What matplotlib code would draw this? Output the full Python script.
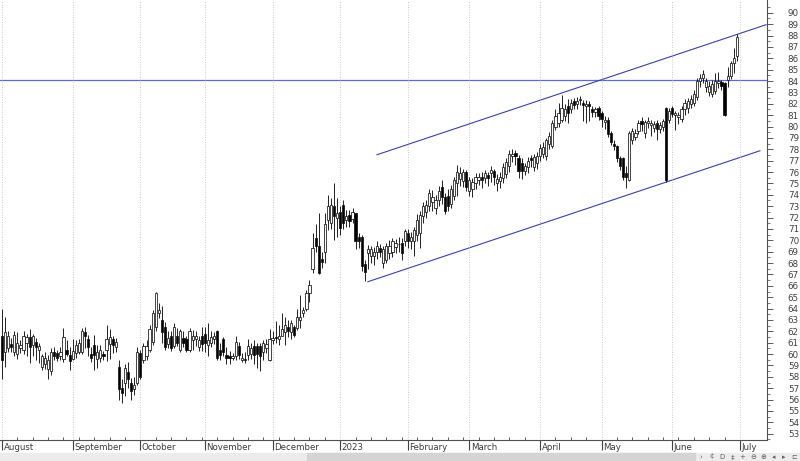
import numpy as np
import pandas as pd
import matplotlib
matplotlib.use('Agg')
import matplotlib.pyplot as plt
from matplotlib.patches import Rectangle

# ---- data --------------------------------------------------------------------
dates = pd.bdate_range('2022-08-01', '2023-06-30')

opens = [
    61.6, 60.2, 60.5, 60.9, 60.2, 60.0, 60.5, 60.4, 61.0, 61.5,
    60.8, 61.1, 60.4, 58.9, 59.1, 58.7, 58.5, 60.2, 60.1, 59.8,
    59.6, 60.4, 59.9, 59.6, 60.1, 60.2, 60.2, 61.9, 61.3, 60.0,
    60.8, 59.6, 59.7, 60.0, 60.4, 60.9, 61.3, 60.6, 58.9, 57.0,
    57.5, 58.4, 57.5, 56.9, 57.5, 60.1, 59.5, 59.8, 60.4, 61.1,
    62.4, 63.6, 63.0, 62.4, 60.9, 61.6, 60.7, 61.6, 60.4, 61.4,
    61.3, 60.4, 61.2, 61.3, 60.6, 61.6, 61.8, 60.8, 61.0, 61.3,
    62.0, 60.4, 61.3, 59.9, 59.8, 59.7, 59.8, 60.7, 59.5, 59.6,
    59.9, 60.0, 60.7, 60.7, 60.7, 60.2, 60.5, 59.5, 61.2, 61.5,
    61.3, 61.6, 61.9, 62.4, 61.9, 62.4, 62.3, 63.0, 63.6, 64.0,
    65.4, 67.5, 70.2, 69.5, 68.4, 69.0, 71.8, 71.5, 73.0, 72.0,
    72.5, 73.1, 71.8, 72.2, 71.9, 72.4, 70.3, 70.3, 67.9, 68.9,
    68.6, 68.6, 69.0, 69.3, 68.0, 68.3, 68.9, 69.0, 69.4, 69.7,
    69.8, 69.9, 70.6, 69.9, 69.9, 70.5, 70.6, 72.1, 72.5, 73.0,
    73.4, 72.8, 73.5, 74.7, 73.8, 73.9, 73.2, 73.9, 75.0, 75.4,
    75.2, 76.0, 74.3, 74.5, 75.0, 75.3, 75.6, 75.5, 75.7, 75.9,
    76.1, 75.0, 75.2, 75.5, 75.8, 76.5, 77.4, 77.7, 77.2, 76.8,
    76.1, 76.4, 77.2, 76.4, 76.8, 77.4, 77.6, 77.4, 78.5, 78.3,
    80.0, 80.3, 80.6, 80.9, 81.8, 81.5, 82.2, 82.0, 82.3, 82.1,
    81.8, 82.0, 81.5, 81.3, 81.6, 81.2, 80.4, 80.6, 79.4, 78.5,
    78.3, 77.2, 77.2, 75.9, 75.3, 78.8, 79.1, 79.6, 80.5, 79.4,
    80.3, 80.1, 79.9, 80.3, 79.8, 80.0, 81.6, 80.6, 81.6, 81.0,
    80.8, 80.7, 81.5, 81.6, 82.0, 82.1, 82.6, 84.0, 84.3, 83.5,
    83.0, 82.9, 83.1, 83.8, 83.9, 83.8, 84.1, 84.4, 85.6, 86.2,
]
highs = [
    64.0, 63.3, 62.0, 61.4, 62.0, 61.9, 61.2, 62.0, 61.8, 62.2,
    61.8, 61.4, 61.0, 60.0, 60.2, 59.9, 60.5, 60.6, 60.4, 60.6,
    62.3, 61.2, 60.6, 61.3, 61.2, 61.3, 62.3, 62.4, 61.7, 60.6,
    61.7, 60.8, 60.8, 60.3, 62.6, 62.2, 61.6, 61.4, 59.5, 57.8,
    59.1, 59.3, 57.9, 58.0, 60.6, 60.4, 61.0, 61.2, 62.6, 63.9,
    65.5, 64.5, 64.2, 62.8, 62.0, 62.0, 62.7, 62.3, 62.2, 62.0,
    61.6, 62.3, 62.1, 62.0, 61.6, 62.4, 62.4, 62.7, 62.0, 61.9,
    62.1, 61.0, 61.5, 60.6, 60.3, 60.1, 61.6, 61.1, 60.1, 60.2,
    61.3, 61.0, 61.2, 61.0, 61.0, 61.2, 61.3, 62.2, 62.0, 62.9,
    62.6, 63.6, 63.3, 63.0, 63.0, 62.6, 64.0, 65.2, 64.1, 65.6,
    66.5, 70.6, 71.4, 72.4, 69.0, 72.4, 74.0, 73.7, 75.0, 73.7,
    73.0, 73.5, 72.7, 72.7, 72.8, 72.4, 70.6, 70.5, 68.3, 69.6,
    69.5, 69.4, 69.9, 69.7, 69.5, 69.8, 70.0, 70.2, 70.1, 70.3,
    70.2, 71.0, 71.0, 70.7, 71.2, 72.3, 72.6, 73.4, 73.5, 74.5,
    74.4, 74.0, 74.8, 75.3, 74.2, 74.5, 74.9, 75.6, 76.6, 76.4,
    76.3, 76.2, 75.6, 75.5, 75.9, 75.9, 76.0, 76.2, 76.0, 76.5,
    76.3, 75.8, 76.0, 76.8, 77.2, 77.9, 78.0, 77.9, 77.5, 77.2,
    76.8, 77.3, 77.5, 77.6, 77.8, 78.5, 78.6, 79.0, 79.5, 80.6,
    81.5, 82.1, 82.8, 82.0, 82.4, 82.4, 82.5, 82.6, 82.7, 82.3,
    82.3, 82.2, 81.8, 81.7, 81.8, 81.4, 80.9, 80.8, 79.6, 78.8,
    78.4, 77.4, 77.3, 76.5, 79.6, 79.9, 79.8, 80.6, 80.8, 80.6,
    80.8, 80.6, 80.5, 80.6, 80.4, 80.7, 81.7, 81.6, 81.8, 81.4,
    81.3, 81.8, 82.4, 82.5, 82.8, 83.2, 84.3, 84.6, 85.0, 84.3,
    84.0, 84.1, 84.7, 84.8, 84.1, 83.9, 85.2, 85.8, 86.9, 88.1,
]
lows = [
    57.8, 58.9, 60.2, 60.2, 59.8, 59.6, 60.1, 60.0, 59.8, 59.2,
    59.8, 59.5, 59.2, 58.6, 58.7, 57.8, 58.2, 59.5, 59.4, 59.5,
    59.3, 59.8, 58.6, 59.5, 59.7, 60.0, 60.0, 60.5, 59.8, 59.3,
    58.6, 58.8, 59.3, 59.5, 59.4, 59.6, 60.1, 60.2, 56.0, 55.7,
    56.3, 57.0, 56.0, 56.4, 57.3, 57.8, 59.2, 59.5, 60.2, 60.8,
    62.0, 63.2, 61.0, 60.4, 60.5, 60.3, 60.5, 60.7, 60.2, 60.6,
    60.2, 60.2, 60.4, 60.7, 60.3, 60.3, 60.2, 59.8, 60.6, 60.9,
    59.5, 59.5, 59.8, 59.1, 59.1, 59.5, 59.5, 59.6, 59.3, 59.2,
    59.5, 59.6, 59.1, 58.8, 58.5, 59.5, 60.1, 59.4, 60.9, 61.0,
    60.8, 61.6, 60.8, 61.5, 61.3, 61.5, 62.1, 62.3, 63.3, 63.8,
    64.6, 67.1, 69.0, 67.0, 67.6, 68.0, 70.9, 71.0, 70.0, 70.3,
    70.5, 71.0, 71.2, 71.2, 71.5, 69.2, 69.3, 67.3, 66.4, 67.5,
    68.0, 67.8, 68.4, 68.5, 67.6, 68.0, 68.4, 68.5, 68.9, 69.0,
    68.3, 69.5, 69.3, 69.2, 68.6, 69.9, 69.3, 71.5, 72.0, 72.6,
    72.6, 72.3, 73.0, 73.2, 72.3, 72.6, 72.8, 73.5, 73.9, 74.8,
    74.7, 74.3, 73.9, 73.8, 74.5, 74.9, 74.6, 75.0, 74.8, 75.1,
    74.9, 74.3, 74.6, 75.0, 75.5, 76.0, 76.9, 76.6, 75.5, 75.4,
    75.7, 75.9, 76.4, 76.1, 76.3, 77.0, 77.2, 77.1, 78.0, 78.1,
    79.7, 80.0, 80.4, 80.5, 80.3, 81.2, 81.5, 81.5, 81.9, 80.5,
    80.3, 80.5, 80.8, 80.8, 80.6, 80.0, 79.8, 79.1, 78.4, 77.9,
    76.9, 76.2, 75.3, 74.6, 75.2, 78.5, 78.8, 79.3, 79.6, 79.0,
    79.9, 79.2, 79.5, 78.8, 79.4, 79.6, 75.1, 80.3, 80.8, 79.7,
    80.2, 80.4, 81.0, 81.2, 81.6, 81.8, 82.3, 83.5, 83.8, 83.0,
    82.7, 82.6, 82.9, 83.4, 83.2, 80.9, 83.5, 84.2, 84.7, 85.8,
]
closes = [
    59.5, 61.9, 61.6, 60.6, 61.7, 61.0, 60.8, 61.6, 61.5, 60.6,
    61.6, 60.6, 60.7, 59.8, 59.7, 59.5, 60.2, 59.8, 59.7, 60.2,
    61.5, 60.0, 59.4, 60.3, 60.8, 61.0, 62.0, 61.6, 60.6, 59.7,
    59.9, 60.2, 60.4, 59.8, 61.3, 61.5, 60.8, 61.1, 56.9, 56.6,
    58.8, 57.8, 56.8, 57.3, 60.2, 58.0, 60.7, 60.7, 62.2, 63.6,
    65.4, 63.9, 61.9, 60.6, 61.4, 60.5, 62.4, 61.0, 62.0, 61.0,
    60.4, 62.0, 61.6, 61.6, 61.2, 60.9, 61.0, 61.2, 61.5, 61.6,
    59.7, 59.9, 60.2, 59.7, 59.7, 59.8, 61.1, 59.9, 59.7, 59.5,
    60.7, 60.5, 59.9, 60.0, 59.8, 61.0, 60.9, 61.3, 61.4, 61.4,
    61.6, 62.2, 62.6, 62.0, 62.7, 61.7, 63.3, 63.3, 63.9, 65.4,
    66.1, 69.3, 69.5, 67.1, 68.1, 71.4, 73.0, 73.1, 72.1, 72.4,
    71.1, 71.5, 72.1, 71.7, 72.5, 69.9, 69.9, 67.7, 67.2, 69.2,
    69.2, 69.0, 69.5, 69.0, 69.2, 69.5, 69.5, 69.9, 69.8, 69.7,
    68.9, 70.8, 69.9, 70.3, 70.9, 71.8, 72.2, 73.0, 73.1, 74.2,
    73.8, 73.5, 74.3, 73.8, 72.6, 73.0, 74.5, 75.3, 76.0, 75.9,
    76.0, 74.7, 75.3, 75.1, 75.6, 75.6, 75.3, 75.9, 75.5, 76.2,
    75.6, 75.4, 75.6, 76.4, 76.9, 77.6, 77.6, 77.4, 76.1, 76.1,
    76.5, 77.0, 77.1, 77.3, 77.4, 78.1, 78.2, 78.8, 79.2, 80.3,
    80.9, 81.2, 81.6, 81.5, 81.2, 82.1, 81.9, 82.2, 82.4, 81.9,
    82.0, 81.8, 81.3, 81.5, 80.9, 80.7, 80.6, 79.3, 78.6, 78.3,
    77.2, 76.5, 75.6, 75.6, 79.4, 79.6, 79.4, 80.3, 80.2, 80.4,
    80.5, 80.3, 80.2, 79.8, 80.1, 80.5, 75.3, 81.4, 81.1, 81.2,
    81.0, 81.5, 82.1, 82.2, 82.4, 82.9, 84.0, 84.3, 84.6, 84.0,
    83.6, 83.7, 84.0, 84.0, 83.6, 81.0, 84.4, 85.6, 86.0, 87.9,
]

# horizontal level and the two channel lines (bar index, price)
level = 84.11
upper_x, upper_y = [121.95, 248.5], [77.52, 88.95]
lower_x, lower_y = [119.0, 246.5], [66.36, 77.87]

month_labels = ['August', 'September', 'October', 'November', 'December', '2023',
                'February', 'March', 'April', 'May', 'June', 'July']
toolbar_icons = ['›', '¢', 'D', '‡', '+', '⊖', '⊕', '◂', '▸', '⊏']

# ---- figure ------------------------------------------------------------------
opens, highs, lows, closes = map(np.array, (opens, highs, lows, closes))
x = np.arange(len(dates))
up = closes >= opens

fig = plt.figure(figsize=(8, 4.61), dpi=100)
ax = fig.add_axes([0, 21 / 461, 767 / 800, 440 / 461])
ax.set_xlim(-0.65, 248.8)
ax.set_ylim(52.45, 91.12)

# candles
ax.vlines(x, lows, highs, color='#111111', lw=0.65, zorder=2)
ax.bar(x, closes - opens, bottom=opens, width=0.72,
       color=np.where(up, 'white', 'black'), edgecolor='#111111', lw=0.55, zorder=3)

# drawn lines
ax.axhline(level, color='#5a6ad8', lw=0.9, zorder=1)
ax.plot(upper_x, upper_y, color='#3a40a8', lw=0.8, zorder=1)
ax.plot(lower_x, lower_y, color='#3a40a8', lw=0.8, zorder=1)

# month axis (first trading day of each month, July one past the end)
month_idx = list(np.flatnonzero(dates.month != np.roll(dates.month, 1))) + [len(dates)]
month_idx[0] = 0
ax.set_xticks(month_idx)
ax.set_xticklabels([])
week_idx = np.flatnonzero(dates.dayofweek == 0)
ax.set_xticks(week_idx, minor=True)
ax.tick_params(axis='x', which='major', direction='out', length=7.5, width=0.8, color='#404040')
ax.tick_params(axis='x', which='minor', direction='in', length=2.5, width=0.6, color='#404040')
ax.grid(axis='x', which='major', color='#b8b8b8', lw=0.6, linestyle=(0, (1, 2)))
for i, name in zip(month_idx, month_labels):
    ax.text(i + 0.5, -0.006, name, transform=ax.get_xaxis_transform(),
            ha='left', va='top', fontsize=6.2, color='#3a3a3a')

# price axis on the right
ax.yaxis.tick_right()
ax.set_yticks(range(53, 91))
ax.set_yticks(np.arange(52.5, 91, 1.0), minor=True)
ax.tick_params(axis='y', which='major', length=4, width=0.6, pad=11,
               labelsize=6.3, colors='#404040')
ax.tick_params(axis='y', which='minor', length=2, width=0.5, color='#404040')

for side in ('top', 'left'):
    ax.spines[side].set_visible(False)
for side in ('right', 'bottom'):
    ax.spines[side].set_color('#505050')
    ax.spines[side].set_linewidth(0.8)

# scroll bar strip at the bottom
bar_h = 8 / 461
fig.add_artist(Rectangle((0, 0), 1, bar_h, transform=fig.transFigure,
                         color='#ececec', zorder=0))
fig.add_artist(Rectangle((307 / 800, 0), 388 / 800, bar_h, transform=fig.transFigure,
                         color='#d4d4d4', zorder=0))
for k, icon in enumerate(toolbar_icons):
    fig.text((701 + k * 10.4) / 800, bar_h / 2, icon, ha='center', va='center',
             fontsize=5, color='#606060')

fig.savefig('out.png', dpi=100)
